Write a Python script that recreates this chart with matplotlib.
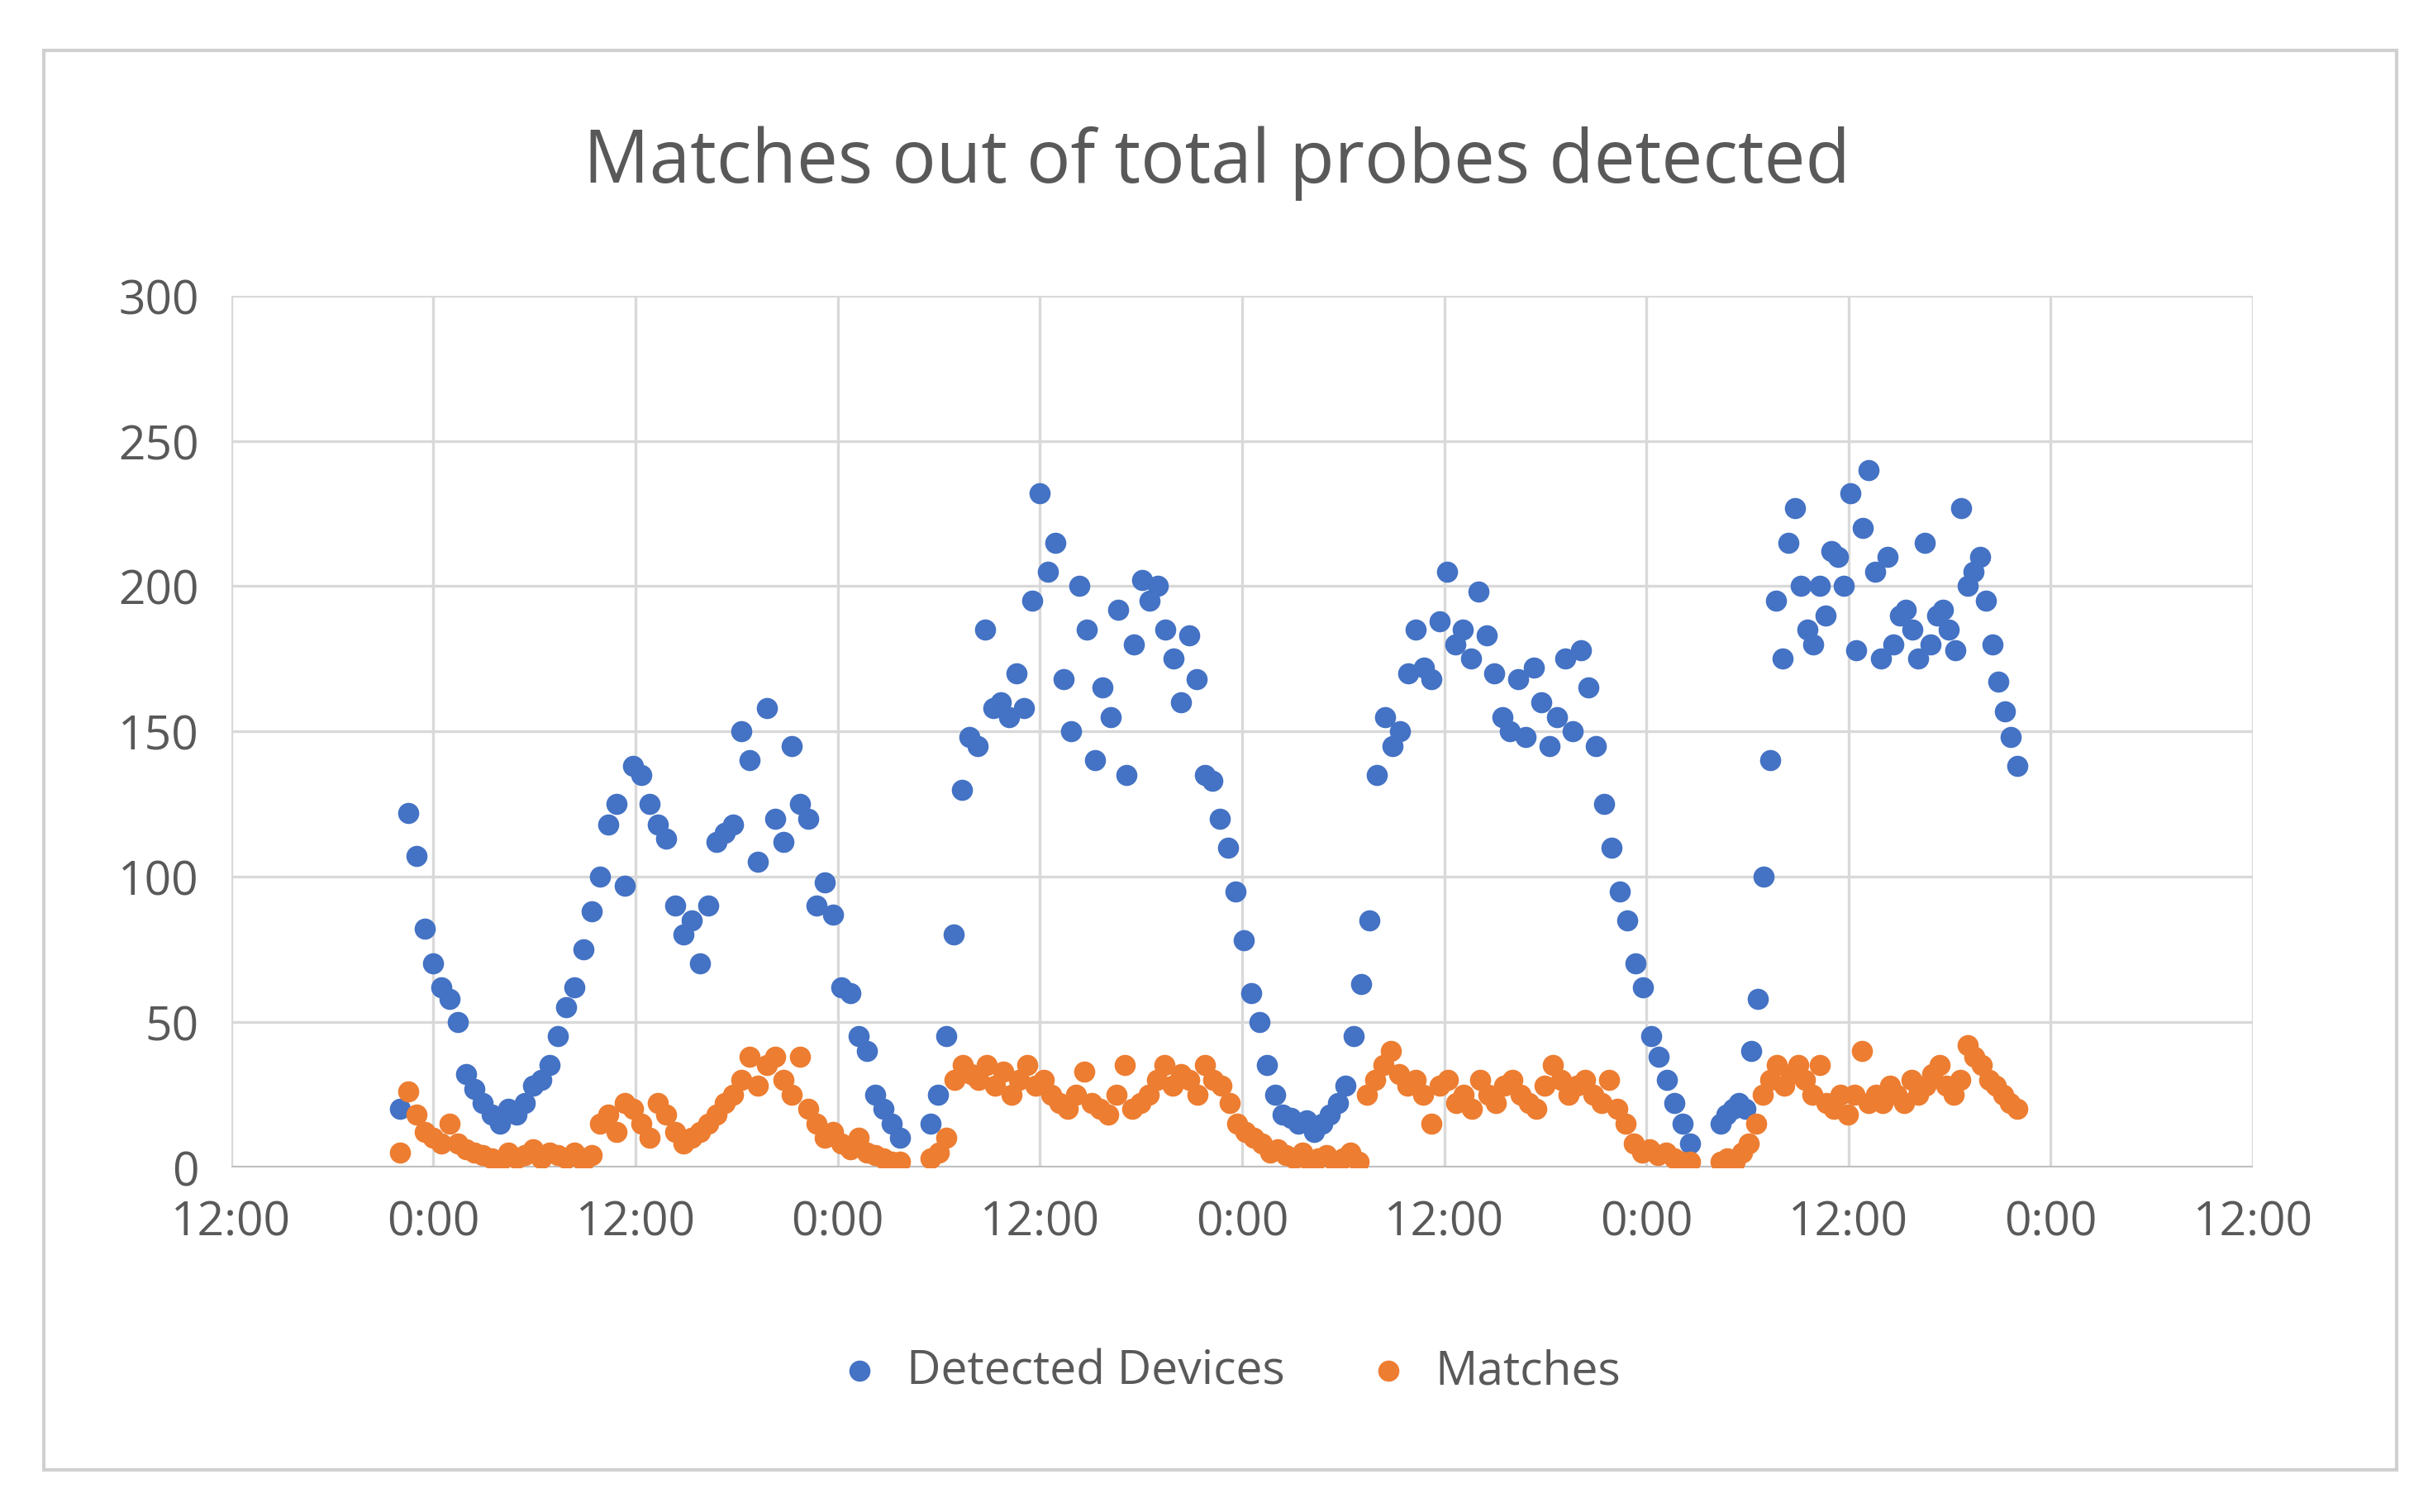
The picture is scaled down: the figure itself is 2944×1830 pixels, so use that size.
import numpy as np
import matplotlib
matplotlib.use("Agg")
import matplotlib.pyplot as plt
from matplotlib.patches import Rectangle

plt.rcParams["font.family"] = ["Open Sans", "DejaVu Sans"]

# hours since first "12:00" tick; samples evenly spaced within each recording block
blocks = [(10.0, 39.7), (41.5, 86.6), (88.4, 106.0)]

detected = [
    [20, 122, 107, 82, 70, 62, 58, 50, 32, 27, 22, 18, 15, 20, 18, 22, 28, 30, 35, 45,
     55, 62, 75, 88, 100, 118, 125, 97, 138, 135, 125, 118, 113, 90, 80, 85, 70, 90, 112, 115,
     118, 150, 140, 105, 158, 120, 112, 145, 125, 120, 90, 98, 87, 62, 60, 45, 40, 25, 20, 15, 10],
    [15, 25, 45, 80, 130, 148, 145, 185, 158, 160, 155, 170, 158, 195, 232, 205, 215, 168, 150, 200,
     185, 140, 165, 155, 192, 135, 180, 202, 195, 200, 185, 175, 160, 183, 168, 135, 133, 120, 110, 95,
     78, 60, 50, 35, 25, 18, 17, 15, 16, 12, 15, 18, 22, 28, 45, 63, 85, 135, 155, 145,
     150, 170, 185, 172, 168, 188, 205, 180, 185, 175, 198, 183, 170, 155, 150, 168, 148, 172, 160, 145,
     155, 175, 150, 178, 165, 145, 125, 110, 95, 85, 70, 62, 45, 38, 30, 22, 15, 8],
    [15, 18, 20, 22, 20, 40, 58, 100, 140, 195, 175, 215, 227, 200, 185, 180, 200, 190, 212, 210,
     200, 232, 178, 220, 240, 205, 175, 210, 180, 190, 192, 185, 175, 215, 180, 190, 192, 185, 178, 227,
     200, 205, 210, 195, 180, 167, 157, 148, 138],
]

matches = [
    [5, 26, 18, 12, 10, 8, 15, 8, 6, 5, 4, 3, 2, 5, 3, 4, 6, 3, 5, 4,
     3, 5, 2, 4, 15, 18, 12, 22, 20, 15, 10, 22, 18, 12, 8, 10, 12, 15, 18, 22,
     25, 30, 38, 28, 35, 38, 30, 25, 38, 20, 15, 10, 12, 8, 6, 10, 5, 4, 3, 2, 2],
    [3, 5, 10, 30, 35, 32, 30, 35, 28, 33, 25, 30, 35, 28, 30, 25, 22, 20, 25, 33,
     22, 20, 18, 25, 35, 20, 22, 25, 30, 35, 28, 32, 30, 25, 35, 30, 28, 22, 15, 12,
     10, 8, 5, 6, 4, 3, 5, 2, 3, 4, 2, 3, 5, 2, 25, 30, 35, 40, 32, 28,
     30, 25, 15, 28, 30, 22, 25, 20, 30, 25, 22, 28, 30, 25, 22, 20, 28, 35, 30, 25,
     28, 30, 25, 22, 30, 20, 15, 8, 5, 6, 4, 5, 3, 2, 2],
    [2, 3, 2, 5, 8, 15, 25, 30, 35, 28, 32, 35, 30, 25, 35, 22, 20, 25, 18, 25,
     40, 22, 25, 22, 28, 25, 22, 30, 25, 28, 32, 35, 28, 25, 30, 42, 38, 35, 30, 28,
     25, 22, 20],
]

tick_hours = list(range(0, 121, 12))
tick_labels = ["12:00", "0:00"] * 5 + ["12:00"]

blue, orange = "#4472C4", "#ED7D31"
txt = "#595959"


def block_series(values):
    xs, ys = [], []
    for (t0, t1), vals in zip(blocks, values):
        xs.extend(np.linspace(t0, t1, len(vals)))
        ys.extend(vals)
    return xs, ys


fig = plt.figure(figsize=(14.72, 9.155), dpi=200)
fig.patches.append(Rectangle((0.018, 0.028), 0.967, 0.938, transform=fig.transFigure,
                             fill=False, edgecolor="#d0d0d0", lw=1.5))
ax = fig.add_axes([0.095, 0.228, 0.831, 0.576])

dx, dy = block_series(detected)
mx, my = block_series(matches)
ax.scatter(dx, dy, s=85, color=blue, label="Detected Devices", zorder=3, linewidths=0)
ax.scatter(mx, my, s=85, color=orange, label="Matches", zorder=3, linewidths=0)

ax.set_xlim(0, 120)
ax.set_ylim(0, 300)
ax.set_xticks(tick_hours)
ax.set_xticklabels(tick_labels)
ax.set_yticks(range(0, 301, 50))
ax.grid(True, color="#d9d9d9", lw=1.2)
ax.set_axisbelow(True)
for s in ax.spines.values():
    s.set_visible(False)
ax.axhline(0, color="#bfbfbf", lw=1.5, zorder=2)
ax.tick_params(length=0, labelsize=20.5, colors=txt, pad=14)

fig.text(0.5, 0.892, "Matches out of total probes detected", ha="center", va="center",
         fontsize=32, color=txt)
fig.legend(loc="center", bbox_to_anchor=(0.5, 0.093), ncol=2, frameon=False,
           fontsize=20.5, labelcolor=txt, handletextpad=0.0, columnspacing=1.2, markerscale=1.0)

fig.savefig("out.png", dpi=200)
